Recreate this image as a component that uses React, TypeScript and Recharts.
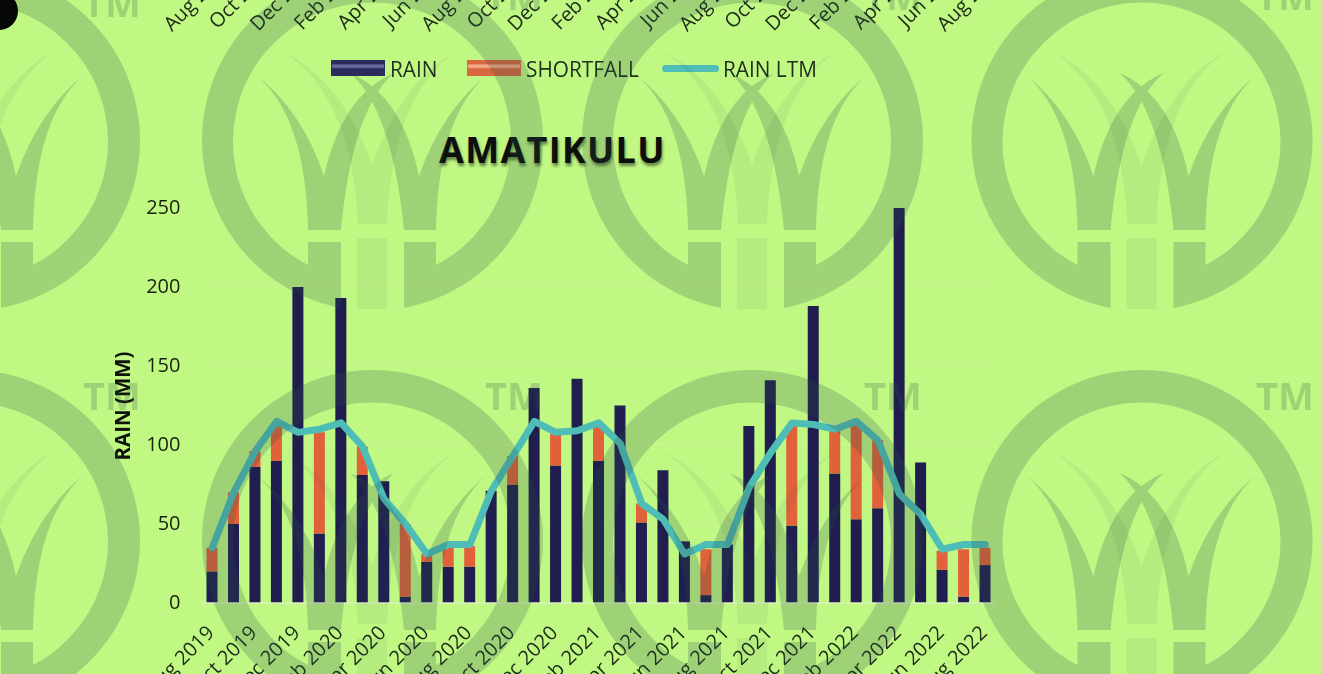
import { Bar, CartesianGrid, ComposedChart, Legend, Line, XAxis, YAxis } from "recharts";

const W = 1321;
const H = 674;

const months = [
  "Aug 2019", "Sep 2019", "Oct 2019", "Nov 2019", "Dec 2019", "Jan 2020", "Feb 2020", "Mar 2020", "Apr 2020",
  "May 2020", "Jun 2020", "Jul 2020", "Aug 2020", "Sep 2020", "Oct 2020", "Nov 2020", "Dec 2020", "Jan 2021",
  "Feb 2021", "Mar 2021", "Apr 2021", "May 2021", "Jun 2021", "Jul 2021", "Aug 2021", "Sep 2021", "Oct 2021",
  "Nov 2021", "Dec 2021", "Jan 2022", "Feb 2022", "Mar 2022", "Apr 2022", "May 2022", "Jun 2022", "Jul 2022",
  "Aug 2022",
];
const rain = [
  20, 50, 86, 90, 200, 44, 193, 81, 77, 4, 26, 23, 23, 71, 75, 136, 87, 142, 90, 125, 51, 84, 39, 5, 37, 112, 141,
  49, 188, 82, 53, 60, 250, 89, 21, 4, 24,
];
const shortfall = [
  15, 20, 10, 22, 0, 64, 0, 18, 0, 46, 5, 12, 13, 0, 18, 0, 20, 0, 22, 0, 12, 0, 0, 29, 0, 0, 0, 63, 0, 27, 60, 43,
  0, 0, 12, 30, 11,
];
const rainLtm = [
  35, 70, 96, 115, 108, 110, 114, 99, 66, 50, 31, 37, 37, 71, 93, 115, 108, 109, 114, 101, 63, 53, 31, 37, 37, 73,
  95, 114, 113, 110, 115, 103, 69, 56, 34, 37, 37,
];
const yTicks = [0, 50, 100, 150, 200, 250];
const legendOrder = ["RAIN", "SHORTFALL", "RAIN LTM"];

// tile layout of the watermark
const logoCols = [-31, 372, 752, 1141.5];
const logoRows = [145, 545];
const tmCols = [112, 514, 893, 1285];
const tmBaselines = [
  [17, 10, 10, 10],
  [410, 410, 410, 410],
];

const chartData = months.map((m, i) => ({ month: m, rain: rain[i], shortfall: shortfall[i], ltm: rainLtm[i] }));

const swatch: Record<string, string[]> = {
  RAIN: ["#2c2c5c", "#6a6aa0"],
  SHORTFALL: ["#d9673f", "#f5a987"],
};
const legendWidths: Record<string, number> = { RAIN: 136, SHORTFALL: 195, "RAIN LTM": 160 };

function LegendRow({ payload }: any) {
  const items = legendOrder.map((name) => (payload || []).find((p: any) => p.value === name)).filter(Boolean);
  return (
    <div style={{ display: "flex", alignItems: "center", fontFamily: "'Open Sans'", fontSize: 22, color: "#20301c" }}>
      {items.map((p: any) => (
        <div key={p.value} style={{ display: "flex", alignItems: "center", width: legendWidths[p.value], flexShrink: 0 }}>
          {swatch[p.value] ? (
            <div
              style={{
                width: 54,
                height: 16,
                marginRight: 5,
                boxSizing: "border-box",
                border: "1px solid " + swatch[p.value][0],
                background: `linear-gradient(${swatch[p.value][0]} 18%, ${swatch[p.value][1]} 30% 45%, ${swatch[p.value][0]} 55%)`,
              }}
            />
          ) : (
            <div style={{ width: 58, height: 7, marginRight: 4, borderRadius: 3.5, background: "#4dbdb6" }} />
          )}
          <span style={{ transform: "scaleX(0.945)", transformOrigin: "left", whiteSpace: "nowrap" }}>{p.value}</span>
        </div>
      ))}
    </div>
  );
}

function MonthTick({ x, y, payload }: any) {
  // the same labels show again cut off along the top of the picture
  const px = x + 3;
  const py = y + 23;
  const topX = px + 18;
  const topY = py - 663;
  return (
    <g fontFamily="'Open Sans'" fontSize={20} fill="#1d2b18">
      <text x={px} y={py} textAnchor="end" transform={`rotate(-45 ${px} ${py})`}>
        {payload.value}
      </text>
      <text x={topX} y={topY} textAnchor="end" transform={`rotate(-45 ${topX} ${topY})`}>
        {payload.value}
      </text>
    </g>
  );
}

function Logo({ cx, cy }: { cx: number; cy: number }) {
  return (
    <g transform={`translate(${cx} ${cy})`}>
      <g fill="#2b5046" opacity={0.07}>
        <path d="M-90 -94 Q-20 -50 -14 79 L15 79 Q20 -50 85 -94 Q30 -65 0 20 Q-30 -65 -90 -94Z" />
        <rect x={-15} y={93} width={30} height={71} />
      </g>
      <g fill="#2b5046" opacity={0.22}>
        <path d="M-31 163 A170.5 170.5 0 1 1 32 163 L32 97 L64 97 L64 120 A139 139 0 1 0 -64 120 L-64 97 L-31 97Z" />
        <path d="M-118 -72 Q-70 -35 -48 31 Q-30 -50 22 -72 Q-20 -35 -31 85 L-64 85 Q-66 -30 -118 -72Z" />
        <path d="M117 -72 Q70 -35 47 31 Q30 -50 -22 -72 Q20 -35 32 85 L64 85 Q66 -30 117 -72Z" />
      </g>
    </g>
  );
}

export default function App() {
  return (
    <div style={{ position: "absolute", left: 0, top: 0, width: W, height: H, overflow: "hidden", background: "#c1f884" }}>
      <div style={{ position: "absolute", left: 0, top: 0, filter: "blur(0.5px)" }}>
        <ComposedChart
          width={W}
          height={H}
          data={chartData}
          margin={{ top: 208, right: W - 996, bottom: 0, left: 141.5 }}
        >
          <CartesianGrid horizontal vertical={false} stroke="#ffffff" strokeOpacity={0.1} />
          <XAxis
            dataKey="month"
            interval={1}
            tick={<MonthTick />}
            tickLine={false}
            axisLine={{ stroke: "#dcefc0", strokeWidth: 1.5 }}
            height={H - 603}
          />
          <YAxis
            domain={[0, 250]}
            ticks={yTicks}
            width={60}
            tickLine={false}
            axisLine={false}
            tickMargin={15}
            tick={{ fontFamily: "'Open Sans'", fontSize: 20, fill: "#18220f", dy: -1 }}
            label={{
              value: "RAIN (MM)",
              angle: -90,
              position: "insideLeft",
              offset: 0,
              dx: -19,
              dy: 55,
              style: { fontFamily: "'Open Sans'", fontSize: 20.5, fontWeight: 700, fill: "#0d120a" },
            }}
          />
          <Legend
            verticalAlign="middle"
            align="center"
            content={<LegendRow />}
            wrapperStyle={{ left: 331, top: 53, width: 520 }}
          />
          <Bar dataKey="rain" name="RAIN" stackId="a" fill="#1f1e4f" barSize={11} isAnimationActive={false} />
          <Bar dataKey="shortfall" name="SHORTFALL" stackId="a" fill="#e0613a" barSize={11} isAnimationActive={false} />
          <Line
            dataKey="ltm"
            name="RAIN LTM"
            stroke="#4dbdb6"
            strokeWidth={7}
            dot={false}
            strokeLinejoin="round"
            strokeLinecap="round"
            isAnimationActive={false}
          />
        </ComposedChart>
      </div>
      <div
        style={{
          position: "absolute",
          left: 439,
          top: 125,
          fontFamily: "'Open Sans'",
          fontWeight: 700,
          fontSize: 36,
          letterSpacing: 1.3,
          color: "#0c0f0c",
          textShadow: "1px 3px 3px rgba(20,40,20,0.55)",
        }}
      >
        AMATIKULU
      </div>
      <svg width={W} height={H} style={{ position: "absolute", left: 0, top: 0, pointerEvents: "none" }}>
        {logoRows.map((cy) => logoCols.map((cx) => <Logo key={`${cx}-${cy}`} cx={cx} cy={cy} />))}
        {tmBaselines.map((row, r) =>
          row.map((y, c) => (
            <text
              key={`${r}-${c}`}
              x={tmCols[c]}
              y={y}
              textAnchor="middle"
              fontFamily="'Open Sans'"
              fontWeight={700}
              fontSize={38}
              fill="#2b5046"
              opacity={0.22}
            >
              TM
            </text>
          )),
        )}
        <circle cx={-1} cy={11} r={19} fill="#050805" />
      </svg>
    </div>
  );
}
